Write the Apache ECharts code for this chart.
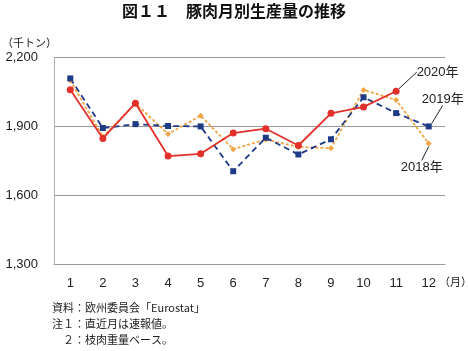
<!DOCTYPE html>
<html>
<head>
<meta charset="utf-8">
<script src="https://cdn.jsdelivr.net/npm/echarts@6/dist/echarts.min.js"></script>
<style>
  html, body { margin: 0; padding: 0; background: #fff; }
  #chart { width: 468px; height: 351px; }
</style>
</head>
<body>
<div id="chart"></div>
<script>
// 豚肉月別生産量（千トン）
const months = ['1', '2', '3', '4', '5', '6', '7', '8', '9', '10', '11', '12']
const y2018 = [2100, 1855, 2000, 1867, 1947, 1801, 1843, 1811, 1805, 2059, 2015, 1826]
const y2019 = [2109, 1893, 1910, 1902, 1900, 1705, 1851, 1778, 1844, 2027, 1958, 1900]
const y2020 = [2060, 1848, 2001, 1771, 1781, 1871, 1890, 1817, 1957, 1985, 2053]
const yTicks = [1300, 1600, 1900, 2200]

const FONT = '"Liberation Sans", "Noto Sans CJK JP", sans-serif'
const JP = '"Noto Sans CJK JP", sans-serif'
const GRID_LINE = '#9a9a9a'

const RED = '#e2302a'
const NAVY = '#1f3a86'
const ORANGE = '#efa445'

// mark the last point of a series with its year label
function withEndLabel(values, text, position) {
  return values.map((v, i) => i === values.length - 1
    ? { value: v, label: { show: true, formatter: text, position } }
    : v)
}

const chart = echarts.init(document.getElementById('chart'))
chart.setOption({
  animation: false,
  textStyle: { fontFamily: FONT },
  grid: { left: 54, right: 23, top: 57.5, bottom: 86.7 },
  xAxis: {
    type: 'category',
    data: months,
    boundaryGap: true,
    axisLine: { lineStyle: { color: GRID_LINE } },
    axisTick: { inside: true, length: 5, lineStyle: { color: GRID_LINE } },
    axisLabel: { color: '#222', fontSize: 13, margin: 13, fontFamily: FONT }
  },
  yAxis: {
    type: 'value',
    min: yTicks[0],
    max: yTicks[yTicks.length - 1],
    interval: 300,
    axisLine: { show: true, lineStyle: { color: '#b0b0b0' } },
    axisTick: { show: false },
    splitLine: { lineStyle: { color: GRID_LINE, width: 1 } },
    axisLabel: {
      color: '#222', fontSize: 13, margin: 16, fontFamily: FONT,
      formatter: v => v.toLocaleString('en-US')
    }
  },
  series: [
    {
      name: '2018年',
      type: 'line',
      data: withEndLabel(y2018, '2018年', 'bottom'),
      symbol: 'diamond',
      symbolSize: 6,
      itemStyle: { color: ORANGE },
      lineStyle: { color: ORANGE, width: 1.8, type: [3, 2] },
      label: { color: '#222', fontSize: 13, fontFamily: FONT },
      labelLine: { show: true, lineStyle: { color: '#222', width: 1 } },
      labelLayout: p => p.dataIndex === y2018.length - 1 ? { dx: -7, dy: 9 } : {}
    },
    {
      name: '2019年',
      type: 'line',
      data: withEndLabel(y2019, '2019年', 'top'),
      symbol: 'rect',
      symbolSize: 6,
      itemStyle: { color: NAVY },
      lineStyle: { color: NAVY, width: 1.8, type: [6, 4] },
      label: { color: '#222', fontSize: 13, fontFamily: FONT },
      labelLine: { show: true, lineStyle: { color: '#222', width: 1 } },
      labelLayout: p => p.dataIndex === y2019.length - 1 ? { dx: 14, dy: -13 } : {}
    },
    {
      name: '2020年',
      type: 'line',
      data: withEndLabel(y2020, '2020年', 'right'),
      symbol: 'circle',
      symbolSize: 7,
      itemStyle: { color: RED },
      lineStyle: { color: RED, width: 1.8 },
      label: { color: '#222', fontSize: 13, fontFamily: FONT },
      labelLine: { show: true, lineStyle: { color: '#222', width: 1 } },
      labelLayout: p => p.dataIndex === y2020.length - 1 ? { dx: 12, dy: -19 } : {}
    }
  ],
  graphic: [
    { type: 'text', left: 'center', top: 3,
      style: { text: '図１１　豚肉月別生産量の推移', font: 'bold 16px ' + JP, fill: '#111' } },
    { type: 'text', left: 2, top: 37,
      style: { text: '（千トン）', font: '11px ' + JP, fill: '#222' } },
    { type: 'text', left: 439, top: 276,
      style: { text: '（月）', font: '11px ' + JP, fill: '#222' } },
    { type: 'text', left: 52, top: 302,
      style: { text: '資料：欧州委員会「Eurostat」', font: '11px ' + JP, fill: '#222' } },
    { type: 'text', left: 52, top: 318,
      style: { text: '注１：直近月は速報値。', font: '11px ' + JP, fill: '#222' } },
    { type: 'text', left: 52, top: 334,
      style: { text: '　２：枝肉重量ベース。', font: '11px ' + JP, fill: '#222' } }
  ]
})
</script>
</body>
</html>
